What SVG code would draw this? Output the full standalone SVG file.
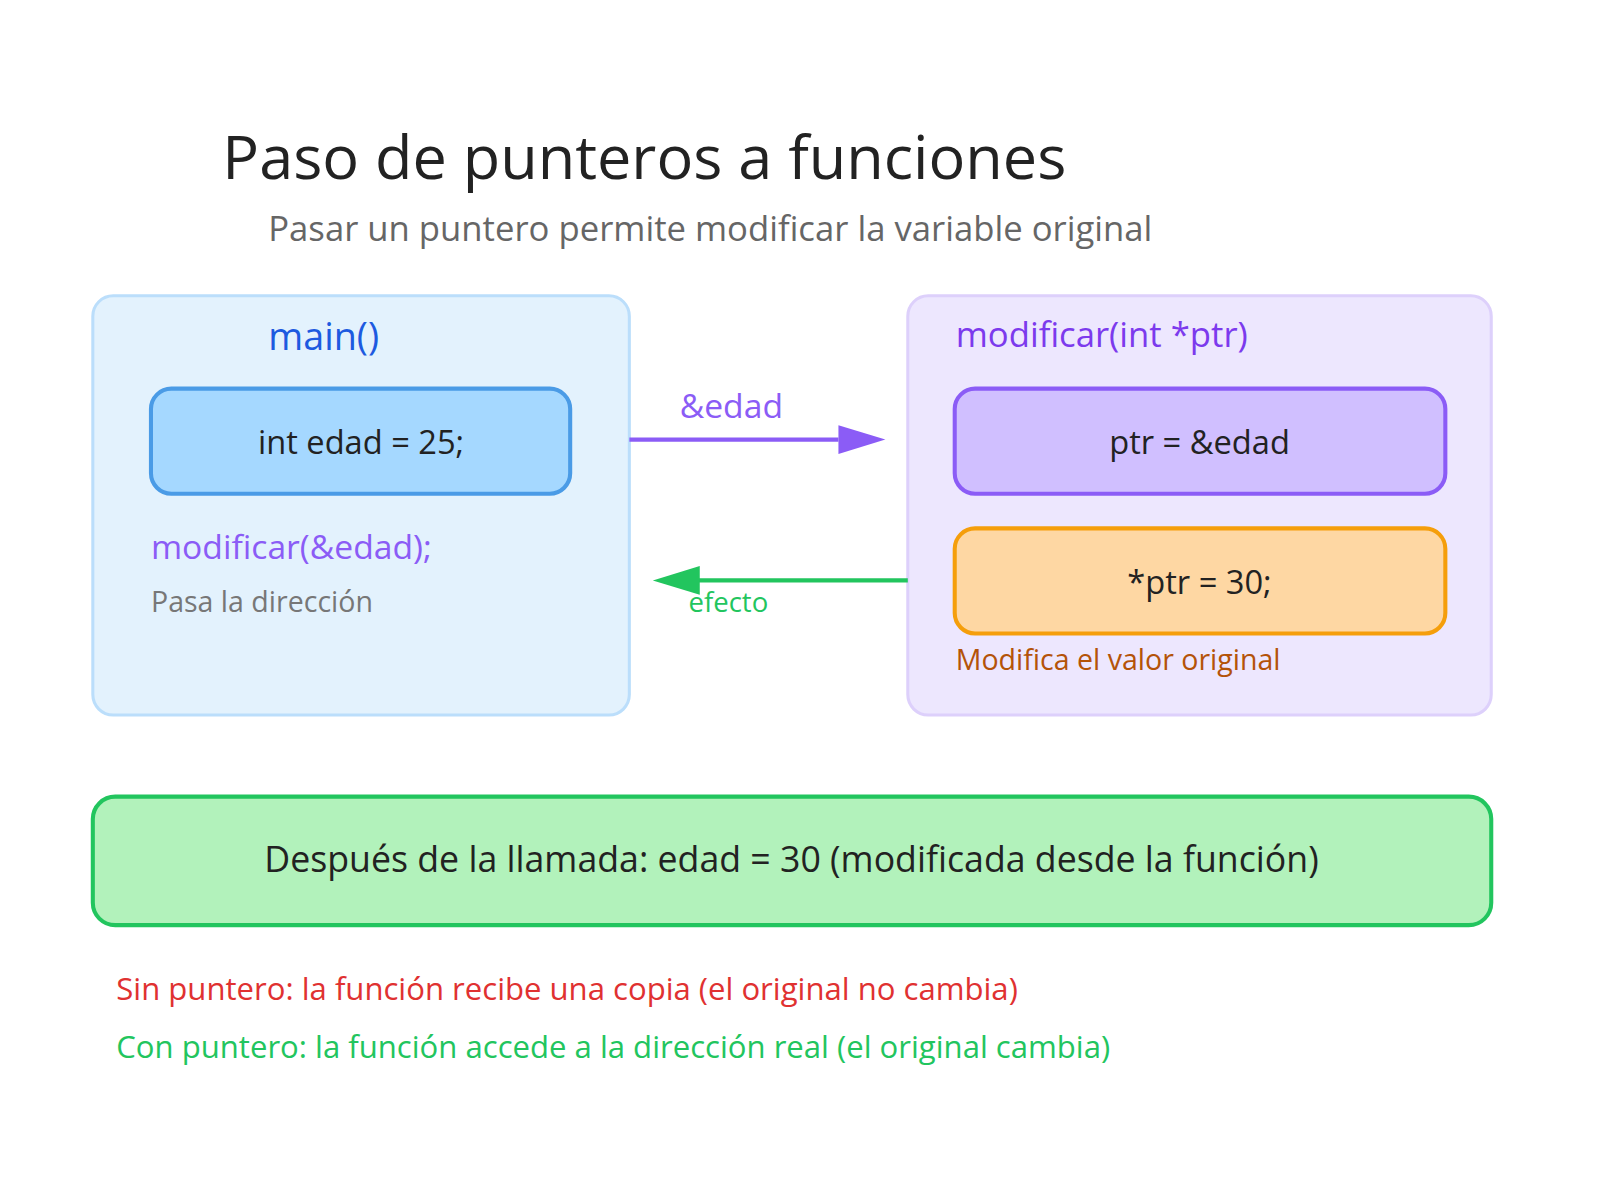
<svg xmlns="http://www.w3.org/2000/svg" width="1600" height="1200" viewBox="0 0 1600 1200">
<defs>
<style>
text{font-family:"Open Sans","Noto Sans","Liberation Sans",sans-serif}
.c{text-anchor:middle}
</style>
</defs>
<rect width="1600" height="1200" fill="#fff"/>
<g transform="scale(1.02)">
<text x="218" y="175" font-size="60" fill="#222">Paso de punteros a funciones</text>
<text x="263" y="236" font-size="34" fill="#666">Pasar un puntero permite modificar la variable original</text>
<g id="main">
<rect x="91" y="290" width="526" height="411" rx="20" fill="#e3f2fd" stroke="#bbdefb" stroke-width="3"/>
<text x="263" y="343" font-size="37" fill="#1d5ae0">main()</text>
</g>
<g id="edad">
<rect x="148" y="381" width="411" height="103" rx="20" fill="#a5d8ff" stroke="#4a9be6" stroke-width="4"/>
<text x="354" y="445" font-size="32" fill="#222" class="c">int edad = 25;</text>
</g>
<g id="call">
<text x="148" y="548" font-size="33" fill="#8b5cf6">modificar(&amp;edad);</text>
<text x="148" y="600" font-size="28" fill="#777">Pasa la dirección</text>
</g>
<g id="func">
<rect x="890" y="290" width="572" height="411" rx="20" fill="#ede7fe" stroke="#ddd0fb" stroke-width="3"/>
<text x="937" y="340" font-size="34" fill="#7c3aed">modificar(int *ptr)</text>
</g>
<g id="ptr">
<rect x="936" y="381" width="481" height="103" rx="20" fill="#d0bfff" stroke="#8b5cf6" stroke-width="4"/>
<text x="1176" y="445" font-size="32" fill="#222" class="c">ptr = &amp;edad</text>
</g>
<g id="assign">
<rect x="936" y="518" width="481" height="103" rx="20" fill="#fed7a3" stroke="#f59e0b" stroke-width="4"/>
<text x="1176" y="582" font-size="32" fill="#222" class="c">*ptr = 30;</text>
<text x="937" y="657" font-size="28" fill="#b45309">Modifica el valor original</text>
</g>
<g id="connectors">
<line x1="617" y1="431" x2="822" y2="431" stroke="#8b5cf6" stroke-width="4"/>
<path d="M822,417L868,431L822,445z" fill="#8b5cf6"/>
<text x="717" y="410" font-size="33" fill="#8b5cf6" class="c">&amp;edad</text>
<line x1="890" y1="569" x2="684" y2="569" stroke="#22c55e" stroke-width="4"/>
<path d="M686,555L640,569L686,583z" fill="#22c55e"/>
<text x="675" y="600" font-size="27" fill="#22c55e">efecto</text>
</g>
<g id="result">
<rect x="91" y="781" width="1371" height="126" rx="22" fill="#b2f2bb" stroke="#22c55e" stroke-width="4"/>
<text x="776" y="855" font-size="35" fill="#222" class="c">Después de la llamada: edad = 30 (modificada desde la función)</text>
</g>
<text x="114" y="980" font-size="30.5" fill="#e03131">Sin puntero: la función recibe una copia (el original no cambia)</text>
<text x="114" y="1037" font-size="30.5" fill="#22c55e">Con puntero: la función accede a la dirección real (el original cambia)</text>
</g>
</svg>
